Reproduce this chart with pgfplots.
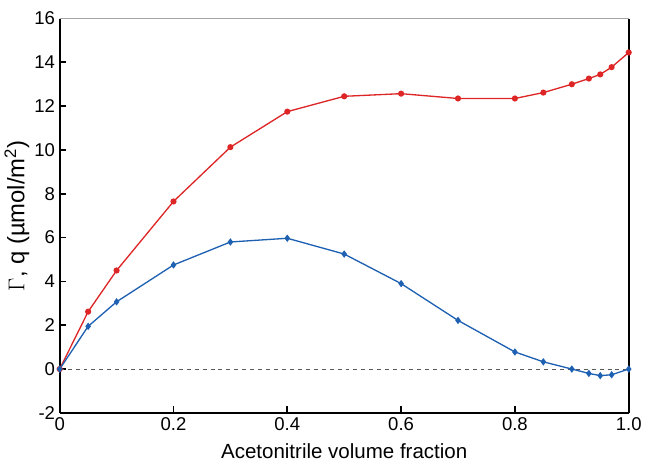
\documentclass[border=0pt]{standalone}
\usepackage{fontspec}
\setmainfont{Liberation Sans}
\usepackage{pgfplots}
\pgfplotsset{compat=1.18}
\definecolor{redline}{RGB}{222,38,38}
\definecolor{blueline}{RGB}{30,96,178}
\begin{document}
\begin{tikzpicture}
\begin{axis}[
  name=ax,
  width=430pt, height=298pt, scale only axis,
  xmin=0, xmax=1, ymin=-2, ymax=16,
  axis x line*=bottom, axis y line*=box,
  x axis line style={-, line width=1.5pt},
  y axis line style={-, line width=1.5pt},
  tick align=inside, ytick pos=left, xtick pos=bottom,
  major tick length=5pt,
  tick style={line width=1.3pt, black},
  xtick={0,0.2,0.4,0.6,0.8,1.0},
  xticklabels={0,0.2,0.4,0.6,0.8,1.0},
  ytick={-2,0,...,16},
  minor tick num=0,
  ticklabel style={font=\fontsize{14}{16}\selectfont},
  /pgf/number format/assume math mode=true,
  xlabel={Acetonitrile volume fraction},
  ylabel={$\Gamma$, q (µmol/m\textsuperscript{2})},
  xlabel style={font=\fontsize{15.5}{17}\selectfont, yshift=-3pt},
  ylabel style={font=\fontsize{18}{20}\selectfont, yshift=-3pt},
  clip=false,
]
\draw[gray!70, line width=0.6pt] (rel axis cs:0,1) -- (rel axis cs:1,1);
\draw[black, line width=1.5pt] (rel axis cs:0,0) -- (rel axis cs:0,1);
\addplot[gray!70!black, dashed, line width=0.5pt, forget plot] coordinates {(0,0) (1,0)};
\addplot[redline, line width=1pt, mark=*, mark size=1.8pt] coordinates {
(0,0) (0.05,2.62) (0.1,4.5) (0.2,7.65) (0.3,10.13) (0.4,11.75) (0.5,12.45) (0.6,12.57)
(0.7,12.35) (0.8,12.35) (0.85,12.62) (0.9,13.0) (0.93,13.26) (0.95,13.45) (0.97,13.78) (1.0,14.45)};
\addplot[blueline, line width=1pt, mark=diamond*, mark size=2pt] coordinates {
(0,0) (0.05,1.95) (0.1,3.07) (0.2,4.75) (0.3,5.8) (0.4,5.97) (0.5,5.25) (0.6,3.9)
(0.7,2.22) (0.8,0.78) (0.85,0.33) (0.9,0) (0.93,-0.2) (0.95,-0.3) (0.97,-0.26) (1.0,0)};
\end{axis}
\path ([yshift=14pt]ax.north) coordinate (topspace);
\end{tikzpicture}
\end{document}
